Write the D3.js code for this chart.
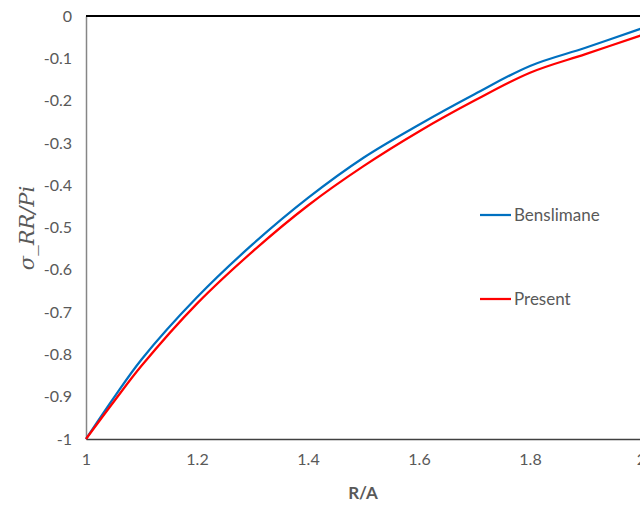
<!DOCTYPE html>
<html>
<head>
<meta charset="utf-8">
<script src="https://d3js.org/d3.v7.min.js"></script>
<style>
  body { margin: 0; background: #fff; }
  svg { display: block; }
</style>
</head>
<body>
<div class="chart"></div>
<script>
// data
const ratio = [1, 1.05, 1.1, 1.2, 1.3, 1.4, 1.5, 1.6, 1.7, 1.8, 1.9, 2.0];
const benslimane = [-1, -0.903, -0.812, -0.665, -0.54, -0.43, -0.335, -0.257, -0.185, -0.118, -0.075, -0.03];
const present = [-1, -0.912, -0.827, -0.68, -0.557, -0.448, -0.355, -0.273, -0.2, -0.134, -0.09, -0.046];
const xTicks = [1, 1.2, 1.4, 1.6, 1.8, 2];
const yTicks = [0, -0.1, -0.2, -0.3, -0.4, -0.5, -0.6, -0.7, -0.8, -0.9, -1];
const seriesNames = ["Benslimane", "Present"];
const seriesColors = ["#0070C0", "#FF0000"];

const W = 640, H = 508;
const margin = { top: 16, left: 86 };
const plotW = 555, plotH = 423;

const svg = d3.select(".chart").append("svg")
  .attr("width", W).attr("height", H);

const g = svg.append("g")
  .attr("transform", `translate(${margin.left},${margin.top})`);

const x = d3.scaleLinear().domain([1, 2]).range([0, plotW]);
const y = d3.scaleLinear().domain([-1, 0]).range([plotH, 0]);

const font = "Lato, 'Open Sans', sans-serif";
// plain hyphen as in the original, not the unicode minus
const fmt = d => String(+d.toFixed(1));

// axes
const yAxis = g.append("g")
  .call(d3.axisLeft(y).tickValues(yTicks).tickSize(0).tickPadding(14).tickFormat(fmt));
yAxis.select(".domain").attr("stroke", "#868686").attr("stroke-width", 1.5);
yAxis.selectAll("text").attr("fill", "#595959").style("font-size", "16px").style("font-family", font);

const xAxis = g.append("g")
  .attr("transform", `translate(0,${plotH})`)
  .call(d3.axisBottom(x).tickValues(xTicks).tickSize(0).tickPadding(15).tickFormat(fmt));
xAxis.select(".domain").attr("stroke", "#404040").attr("stroke-width", 1.5);
xAxis.selectAll("text").attr("fill", "#595959").style("font-size", "16px").style("font-family", font);

// zero line on top
g.append("line")
  .attr("x1", 0).attr("x2", plotW)
  .attr("y1", y(0)).attr("y2", y(0))
  .attr("stroke", "#000").attr("stroke-width", 2);

// series
const line = d3.line()
  .x((d, i) => x(ratio[i]))
  .y(d => y(d))
  .curve(d3.curveCatmullRom.alpha(0.5));

[benslimane, present].forEach((vals, i) => {
  g.append("path")
    .datum(vals)
    .attr("fill", "none")
    .attr("stroke", seriesColors[i])
    .attr("stroke-width", 2.25)
    .attr("d", line);
});

// legend
const legendY = [215, 299];
seriesNames.forEach((name, i) => {
  svg.append("line")
    .attr("x1", 480).attr("x2", 511)
    .attr("y1", legendY[i]).attr("y2", legendY[i])
    .attr("stroke", seriesColors[i]).attr("stroke-width", 2.25);
  svg.append("text")
    .attr("x", 514).attr("y", legendY[i] + 6)
    .attr("fill", "#595959")
    .style("font-size", "17px").style("font-family", font)
    .text(name);
});

// axis titles
svg.append("text")
  .attr("x", 363).attr("y", 499)
  .attr("text-anchor", "middle")
  .attr("fill", "#595959")
  .style("font-size", "17px").style("font-weight", "bold").style("font-family", font)
  .text("R/A");

svg.append("text")
  .attr("transform", "translate(34,228) rotate(-90)")
  .attr("text-anchor", "middle")
  .attr("fill", "#595959")
  .style("font-size", "21px").style("font-style", "italic").style("font-family", "'DejaVu Serif', serif")
  .text("σ_RR/Pi");
</script>
</body>
</html>
